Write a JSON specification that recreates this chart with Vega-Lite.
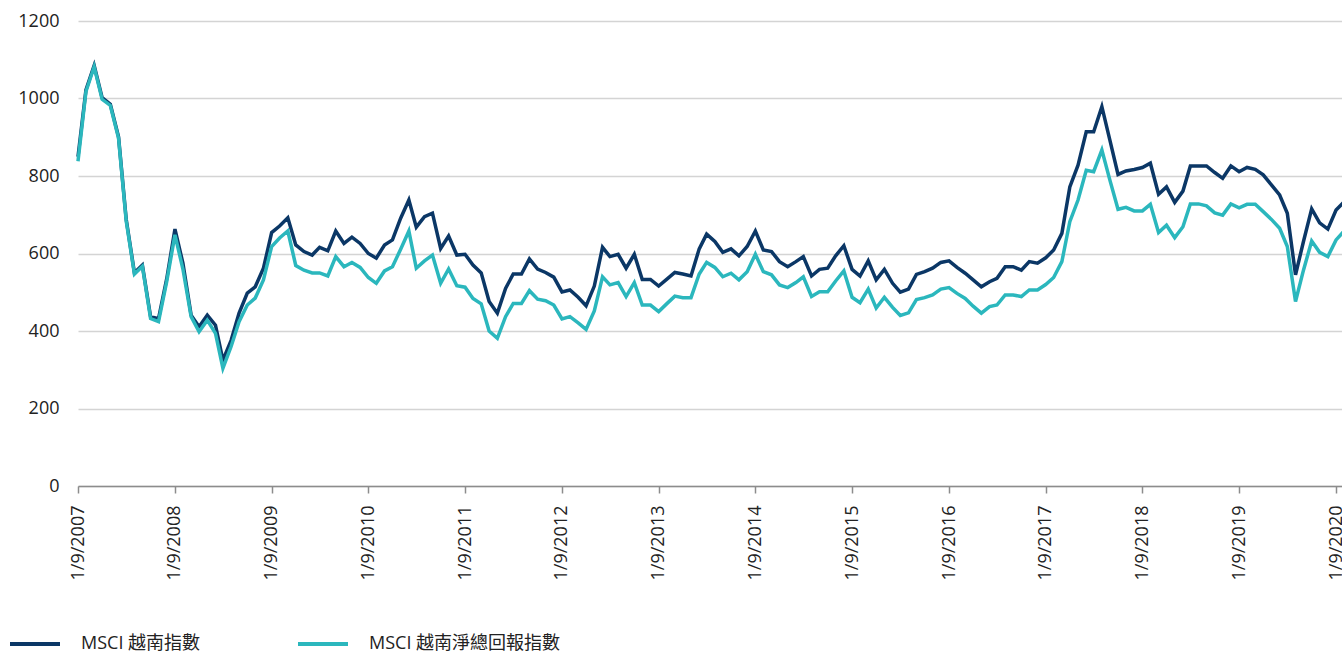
{
  "$schema": "https://vega.github.io/schema/vega-lite/v6.json",
  "width": 1266,
  "height": 465,
  "autosize": {"type": "none"},
  "padding": {"left": 78, "top": 21, "right": 0, "bottom": 168},
  "background": "white",
  "config": {
    "font": "Open Sans, Noto Sans CJK TC",
    "view": {"stroke": null},
    "axis": {"labelFont": "Open Sans, Noto Sans CJK TC", "labelColor": "#222222", "labelFontSize": 18, "titleFontSize": 18}
  },
  "data": {
    "values": [
      {"d": "2007-09-01", "a": 850, "b": 838},
      {"d": "2007-10-01", "a": 1022, "b": 1018},
      {"d": "2007-11-01", "a": 1085, "b": 1082},
      {"d": "2007-12-01", "a": 1002, "b": 998},
      {"d": "2008-01-01", "a": 985, "b": 982},
      {"d": "2008-02-01", "a": 901, "b": 898},
      {"d": "2008-03-01", "a": 688, "b": 684},
      {"d": "2008-04-01", "a": 550, "b": 547},
      {"d": "2008-05-01", "a": 570, "b": 567},
      {"d": "2008-06-01", "a": 437, "b": 432},
      {"d": "2008-07-01", "a": 432, "b": 424},
      {"d": "2008-08-01", "a": 535, "b": 528},
      {"d": "2008-09-01", "a": 663, "b": 648},
      {"d": "2008-10-01", "a": 575, "b": 560},
      {"d": "2008-11-01", "a": 441, "b": 437},
      {"d": "2008-12-01", "a": 411, "b": 398},
      {"d": "2009-01-01", "a": 441, "b": 428},
      {"d": "2009-02-01", "a": 415, "b": 394},
      {"d": "2009-03-01", "a": 325, "b": 304},
      {"d": "2009-04-01", "a": 376, "b": 360},
      {"d": "2009-05-01", "a": 446, "b": 424},
      {"d": "2009-06-01", "a": 498, "b": 467},
      {"d": "2009-07-01", "a": 514, "b": 485},
      {"d": "2009-08-01", "a": 562, "b": 532},
      {"d": "2009-09-01", "a": 654, "b": 618},
      {"d": "2009-10-01", "a": 671, "b": 640},
      {"d": "2009-11-01", "a": 692, "b": 658},
      {"d": "2009-12-01", "a": 622, "b": 569},
      {"d": "2010-01-01", "a": 605, "b": 557},
      {"d": "2010-02-01", "a": 596, "b": 550},
      {"d": "2010-03-01", "a": 616, "b": 550},
      {"d": "2010-04-01", "a": 607, "b": 542},
      {"d": "2010-05-01", "a": 658, "b": 592},
      {"d": "2010-06-01", "a": 626, "b": 566},
      {"d": "2010-07-01", "a": 642, "b": 577},
      {"d": "2010-08-01", "a": 626, "b": 564},
      {"d": "2010-09-01", "a": 600, "b": 538},
      {"d": "2010-10-01", "a": 588, "b": 523},
      {"d": "2010-11-01", "a": 622, "b": 555},
      {"d": "2010-12-01", "a": 635, "b": 566},
      {"d": "2011-01-01", "a": 691, "b": 611},
      {"d": "2011-02-01", "a": 738, "b": 658},
      {"d": "2011-03-01", "a": 668, "b": 562},
      {"d": "2011-04-01", "a": 695, "b": 581},
      {"d": "2011-05-01", "a": 704, "b": 596},
      {"d": "2011-06-01", "a": 613, "b": 523},
      {"d": "2011-07-01", "a": 645, "b": 560},
      {"d": "2011-08-01", "a": 596, "b": 517},
      {"d": "2011-09-01", "a": 598, "b": 513},
      {"d": "2011-10-01", "a": 570, "b": 484},
      {"d": "2011-11-01", "a": 550, "b": 470},
      {"d": "2011-12-01", "a": 476, "b": 400},
      {"d": "2012-01-01", "a": 446, "b": 381},
      {"d": "2012-02-01", "a": 510, "b": 437},
      {"d": "2012-03-01", "a": 547, "b": 471},
      {"d": "2012-04-01", "a": 547, "b": 471},
      {"d": "2012-05-01", "a": 586, "b": 504},
      {"d": "2012-06-01", "a": 560, "b": 482},
      {"d": "2012-07-01", "a": 551, "b": 478},
      {"d": "2012-08-01", "a": 539, "b": 467},
      {"d": "2012-09-01", "a": 501, "b": 431},
      {"d": "2012-10-01", "a": 506, "b": 437},
      {"d": "2012-11-01", "a": 487, "b": 421},
      {"d": "2012-12-01", "a": 465, "b": 404},
      {"d": "2013-01-01", "a": 516, "b": 452},
      {"d": "2013-02-01", "a": 616, "b": 540},
      {"d": "2013-03-01", "a": 592, "b": 519},
      {"d": "2013-04-01", "a": 598, "b": 525},
      {"d": "2013-05-01", "a": 562, "b": 489},
      {"d": "2013-06-01", "a": 598, "b": 525},
      {"d": "2013-07-01", "a": 533, "b": 467},
      {"d": "2013-08-01", "a": 533, "b": 467},
      {"d": "2013-09-01", "a": 516, "b": 450},
      {"d": "2013-10-01", "a": 533, "b": 470},
      {"d": "2013-11-01", "a": 551, "b": 490},
      {"d": "2013-12-01", "a": 547, "b": 486},
      {"d": "2014-01-01", "a": 542, "b": 486},
      {"d": "2014-02-01", "a": 612, "b": 547},
      {"d": "2014-03-01", "a": 650, "b": 577},
      {"d": "2014-04-01", "a": 631, "b": 564},
      {"d": "2014-05-01", "a": 603, "b": 540},
      {"d": "2014-06-01", "a": 612, "b": 549},
      {"d": "2014-07-01", "a": 594, "b": 532},
      {"d": "2014-08-01", "a": 618, "b": 553},
      {"d": "2014-09-01", "a": 658, "b": 598},
      {"d": "2014-10-01", "a": 609, "b": 553},
      {"d": "2014-11-01", "a": 605, "b": 545},
      {"d": "2014-12-01", "a": 579, "b": 519},
      {"d": "2015-01-01", "a": 566, "b": 512},
      {"d": "2015-02-01", "a": 579, "b": 525},
      {"d": "2015-03-01", "a": 592, "b": 540},
      {"d": "2015-04-01", "a": 542, "b": 489},
      {"d": "2015-05-01", "a": 559, "b": 501},
      {"d": "2015-06-01", "a": 562, "b": 501},
      {"d": "2015-07-01", "a": 594, "b": 529},
      {"d": "2015-08-01", "a": 620, "b": 555},
      {"d": "2015-09-01", "a": 559, "b": 487},
      {"d": "2015-10-01", "a": 542, "b": 473},
      {"d": "2015-11-01", "a": 581, "b": 508},
      {"d": "2015-12-01", "a": 532, "b": 459},
      {"d": "2016-01-01", "a": 559, "b": 487},
      {"d": "2016-02-01", "a": 523, "b": 461},
      {"d": "2016-03-01", "a": 500, "b": 440},
      {"d": "2016-04-01", "a": 508, "b": 447},
      {"d": "2016-05-01", "a": 546, "b": 481},
      {"d": "2016-06-01", "a": 553, "b": 486},
      {"d": "2016-07-01", "a": 562, "b": 493},
      {"d": "2016-08-01", "a": 577, "b": 508},
      {"d": "2016-09-01", "a": 581, "b": 512},
      {"d": "2016-10-01", "a": 564, "b": 497},
      {"d": "2016-11-01", "a": 549, "b": 484},
      {"d": "2016-12-01", "a": 532, "b": 464},
      {"d": "2017-01-01", "a": 514, "b": 446},
      {"d": "2017-02-01", "a": 527, "b": 463},
      {"d": "2017-03-01", "a": 536, "b": 467},
      {"d": "2017-04-01", "a": 566, "b": 493},
      {"d": "2017-05-01", "a": 566, "b": 493},
      {"d": "2017-06-01", "a": 557, "b": 489},
      {"d": "2017-07-01", "a": 579, "b": 506},
      {"d": "2017-08-01", "a": 575, "b": 506},
      {"d": "2017-09-01", "a": 589, "b": 520},
      {"d": "2017-10-01", "a": 609, "b": 538},
      {"d": "2017-11-01", "a": 652, "b": 579},
      {"d": "2017-12-01", "a": 772, "b": 682},
      {"d": "2018-01-01", "a": 828, "b": 738},
      {"d": "2018-02-01", "a": 914, "b": 815},
      {"d": "2018-03-01", "a": 914, "b": 811},
      {"d": "2018-04-01", "a": 979, "b": 867},
      {"d": "2018-05-01", "a": 893, "b": 790},
      {"d": "2018-06-01", "a": 804, "b": 714},
      {"d": "2018-07-01", "a": 813, "b": 719},
      {"d": "2018-08-01", "a": 817, "b": 710},
      {"d": "2018-09-01", "a": 822, "b": 710},
      {"d": "2018-10-01", "a": 833, "b": 727},
      {"d": "2018-11-01", "a": 753, "b": 654},
      {"d": "2018-12-01", "a": 772, "b": 673},
      {"d": "2019-01-01", "a": 732, "b": 641},
      {"d": "2019-02-01", "a": 761, "b": 669},
      {"d": "2019-03-01", "a": 826, "b": 728},
      {"d": "2019-04-01", "a": 826, "b": 728},
      {"d": "2019-05-01", "a": 826, "b": 723},
      {"d": "2019-06-01", "a": 809, "b": 705},
      {"d": "2019-07-01", "a": 794, "b": 699},
      {"d": "2019-08-01", "a": 826, "b": 728},
      {"d": "2019-09-01", "a": 811, "b": 718},
      {"d": "2019-10-01", "a": 822, "b": 727},
      {"d": "2019-11-01", "a": 817, "b": 727},
      {"d": "2019-12-01", "a": 803, "b": 708},
      {"d": "2020-01-01", "a": 777, "b": 688},
      {"d": "2020-02-01", "a": 751, "b": 665},
      {"d": "2020-03-01", "a": 704, "b": 618},
      {"d": "2020-04-01", "a": 545, "b": 476},
      {"d": "2020-05-01", "a": 631, "b": 557},
      {"d": "2020-06-01", "a": 715, "b": 632},
      {"d": "2020-07-01", "a": 679, "b": 603},
      {"d": "2020-08-01", "a": 663, "b": 592},
      {"d": "2020-09-01", "a": 712, "b": 635},
      {"d": "2020-10-01", "a": 733, "b": 658}
    ]
  },
  "transform": [
    {"fold": ["a", "b"], "as": ["k", "v"]},
    {"lookup": "k", "from": {"data": {"values": [{"k": "a", "s": "MSCI 越南指數"}, {"k": "b", "s": "MSCI 越南淨總回報指數"}]}, "key": "k", "fields": ["s"]}}
  ],
  "mark": {"type": "line", "strokeWidth": 3.5, "strokeJoin": "miter", "strokeCap": "butt"},
  "encoding": {
    "x": {
      "field": "d",
      "type": "temporal",
      "scale": {"type": "utc", "domain": [{"year": 2007, "month": 9, "date": 1, "utc": true}, {"year": 2020, "month": 10, "date": 1, "utc": true}]},
      "axis": {
        "title": null,
        "grid": false,
        "values": [
          {"year": 2007, "month": 9, "date": 1, "utc": true},
          {"year": 2008, "month": 9, "date": 1, "utc": true},
          {"year": 2009, "month": 9, "date": 1, "utc": true},
          {"year": 2010, "month": 9, "date": 1, "utc": true},
          {"year": 2011, "month": 9, "date": 1, "utc": true},
          {"year": 2012, "month": 9, "date": 1, "utc": true},
          {"year": 2013, "month": 9, "date": 1, "utc": true},
          {"year": 2014, "month": 9, "date": 1, "utc": true},
          {"year": 2015, "month": 9, "date": 1, "utc": true},
          {"year": 2016, "month": 9, "date": 1, "utc": true},
          {"year": 2017, "month": 9, "date": 1, "utc": true},
          {"year": 2018, "month": 9, "date": 1, "utc": true},
          {"year": 2019, "month": 9, "date": 1, "utc": true},
          {"year": 2020, "month": 9, "date": 1, "utc": true}
        ],
        "labelExpr": "'1/9/' + utcFormat(datum.value, '%Y')",
        "labelAngle": 270,
        "labelAlign": "right",
        "labelBaseline": "middle",
        "labelPadding": 12,
        "labelOverlap": false,
        "labelFlush": false,
        "domainColor": "#8c8c8c",
        "domainWidth": 1.5,
        "tickColor": "#8c8c8c",
        "tickWidth": 1.5,
        "tickSize": 7
      }
    },
    "y": {
      "field": "v",
      "type": "quantitative",
      "scale": {"domain": [0, 1200], "nice": false},
      "axis": {
        "title": null,
        "format": "d",
        "values": [0, 200, 400, 600, 800, 1000, 1200],
        "domain": false,
        "ticks": false,
        "grid": true,
        "gridColor": "#d4d4d4",
        "gridWidth": 1.5,
        "labelPadding": 19
      }
    },
    "color": {
      "field": "s",
      "type": "nominal",
      "sort": ["MSCI 越南指數", "MSCI 越南淨總回報指數"],
      "scale": {"domain": ["MSCI 越南指數", "MSCI 越南淨總回報指數"], "range": ["#0b3766", "#2bb7bd"]},
      "legend": {
        "title": null,
        "orient": "none",
        "direction": "horizontal",
        "legendX": -70,
        "legendY": 596,
        "symbolType": "stroke",
        "symbolSize": 2500,
        "symbolStrokeWidth": 4,
        "labelFontSize": 18,
        "labelColor": "#222222",
        "labelFont": "Open Sans, Noto Sans CJK TC",
        "labelBaseline": "middle",
        "labelLimit": 400,
        "labelOffset": 19,
        "columnPadding": 89,
        "padding": 0
      }
    }
  }
}
